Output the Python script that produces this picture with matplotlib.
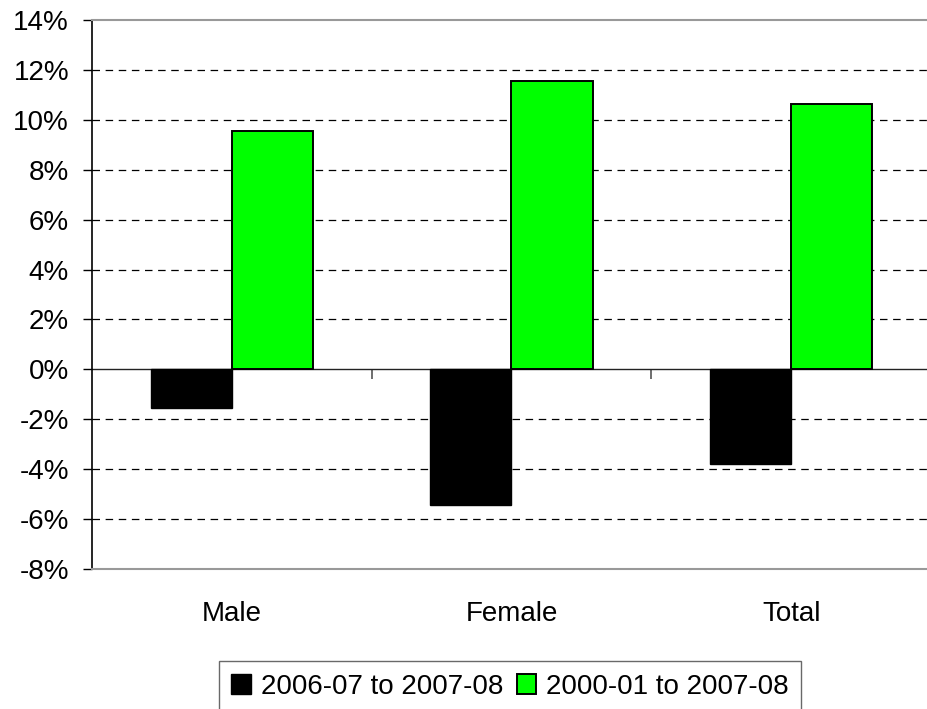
import numpy as np
import matplotlib
matplotlib.use("Agg")
import matplotlib.pyplot as plt
from matplotlib.ticker import FuncFormatter

plt.rcParams['font.family'] = ['Liberation Sans', 'DejaVu Sans']

# Data
categories = ["Male", "Female", "Total"]
series_names = ["2006-07 to 2007-08", "2000-01 to 2007-08"]
change_1yr = [-1.55, -5.45, -3.8]
change_7yr = [9.55, 11.55, 10.65]
y_ticks = list(range(-8, 15, 2))

fig = plt.figure(figsize=(9.28, 7.09), dpi=100)
W, H = 928, 709
ax = fig.add_axes([92 / W, 1 - 569 / H, (931 - 92) / W, (569 - 20) / H])

x = np.arange(len(categories))
bw = 0.29
ax.bar(x - bw / 2, change_1yr, bw, color="black", edgecolor="black",
       linewidth=1.0, label=series_names[0], zorder=3)
ax.bar(x + bw / 2, change_7yr, bw, color="#00FF00", edgecolor="black",
       linewidth=1.4, label=series_names[1], zorder=3)

ax.set_xlim(-0.5, len(categories) - 0.5)
ax.set_ylim(-8, 14)
ax.set_yticks(y_ticks)
ax.yaxis.set_major_formatter(FuncFormatter(lambda v, p: f"{v:.0f}%"))

# dashed gridlines (not at 0 or the frame edges)
for v in y_ticks:
    if v not in (0, -8, 14):
        ax.axhline(v, color="black", linestyle=(0, (6, 4.5)), linewidth=0.9, zorder=1)
ax.axhline(0, color="#222222", linewidth=1.0, zorder=2)

ax.tick_params(axis="y", direction="out", length=6.5, width=1, pad=10,
               labelsize=20, colors="black")
ax.set_xticks(x)
ax.set_xticklabels(categories)
ax.tick_params(axis="x", length=0, pad=23, labelsize=20)

for s in ("top", "bottom"):
    ax.spines[s].set_color("#999999")
    ax.spines[s].set_linewidth(1.5)
ax.spines["right"].set_visible(False)
ax.spines["left"].set_color("black")
ax.spines["left"].set_linewidth(1.2)

# category separator ticks on the zero line
sec = ax.secondary_xaxis(8 / 22)
sec.set_xticks(x[:-1] + 0.5)
sec.set_xticklabels([])
sec.tick_params(direction="out", length=7, width=1.2, color="#555555")
sec.spines["bottom"].set_visible(False)

leg = fig.legend(loc="upper center", bbox_to_anchor=(510 / W, 1 - 661 / H),
                 ncol=2, fontsize=20, frameon=True, fancybox=False,
                 edgecolor="#444444", handlelength=0.7, handleheight=0.7,
                 handletextpad=0.35, columnspacing=0.5, borderpad=0.45,
                 borderaxespad=0)
leg.get_frame().set_linewidth(1.0)

fig.savefig("out.png", dpi=100)
